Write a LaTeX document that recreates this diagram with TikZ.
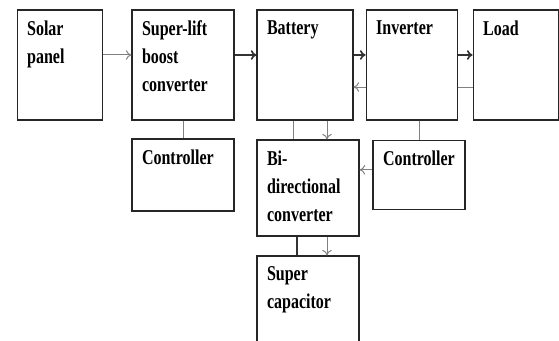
\documentclass[tikz,border=0pt]{standalone}
\usepackage{fontspec}
\setmainfont{Liberation Serif}[FakeStretch=0.76]
\usetikzlibrary{arrows.meta,positioning,calc}
\newcommand{\blktext}[3]{\parbox[c][#2][t]{#1}{\raggedright\vspace*{0.26cm}#3}}

\begin{document}
\begin{tikzpicture}[
  every node/.style={font=\fontsize{15pt}{20pt}\selectfont\bfseries},
  blk/.style={draw=black!85,line width=0.8pt,inner xsep=0.25cm,inner ysep=0pt,fill=white},
  thin/.style={black!50,line width=0.7pt},
  thick/.style={black!80,line width=1.2pt},
  ar/.style={-{To[length=1.4mm,width=2.4mm]}}]
\useasboundingbox (0,0) rectangle (13.975,8.525);
\clip (0,0) rectangle (13.975,8.525);
% top row
\node[blk] (solar) at (1.49,6.9) {\blktext{1.625cm}{2.75cm}{Solar\\panel}};
\node[blk] (lift) at (4.575,6.9) {\blktext{2.05cm}{2.75cm}{Super-lift\\boost\\converter}};
\node[blk] (batt) at (7.625,6.9) {\blktext{1.9cm}{2.75cm}{Battery}};
\node[blk] (inv) at (10.29,6.9) {\blktext{1.775cm}{2.75cm}{Inverter}};
\node[blk] (load) at (12.89,6.9) {\blktext{1.625cm}{2.75cm}{Load}};
% lower row
\node[blk] (ctrla) at (4.575,4.15) {\blktext{2.05cm}{1.8cm}{Controller}};
\node[blk] (bidir) at (7.7,3.825) {\blktext{2.05cm}{2.4cm}{Bi-\\directional\\converter}};
\node[blk] (ctrlb) at (10.475,4.14) {\blktext{1.8cm}{1.725cm}{Controller}};
\node[blk] (cap) at (7.7,0.875) {\blktext{2.05cm}{2.5cm}{Super\\capacitor}};
% power flow
\draw[thin,ar] ([yshift=0.25cm]solar.east) -- ([yshift=0.25cm]lift.west);
\draw[thick,ar] ([yshift=0.25cm]lift.east) -- ([yshift=0.25cm]batt.west);
\draw[thick,ar] ([yshift=0.25cm]batt.east) -- ([yshift=0.25cm]inv.west);
\draw[thick,ar] ([yshift=0.25cm]inv.east) -- ([yshift=0.25cm]load.west);
\draw[thin,ar] ([yshift=-0.55cm]inv.west) -- ([yshift=-0.55cm]batt.east);
\draw[thin] ([yshift=-0.55cm]load.west) -- ([yshift=-0.55cm]inv.east);
% control links
\draw[thin] (lift.south) -- (ctrla.north);
\draw[thin] (ctrlb.north |- inv.south) -- (ctrlb.north);
\draw[thin,ar] ([yshift=0.14cm]ctrlb.west) -- ([yshift=0.14cm]ctrlb.west -| bidir.east);
% storage links
\draw[thin] ([xshift=-0.375cm]bidir.north |- batt.south) -- ([xshift=-0.375cm]bidir.north);
\draw[thin,ar] ([xshift=0.475cm]bidir.north |- batt.south) -- ([xshift=0.475cm]bidir.north);
\draw[thick] ([xshift=-0.275cm]bidir.south) -- ([xshift=-0.275cm]cap.north);
\draw[thin,ar] ([xshift=0.475cm]bidir.south) -- ([xshift=0.475cm]cap.north);
\end{tikzpicture}
\end{document}
